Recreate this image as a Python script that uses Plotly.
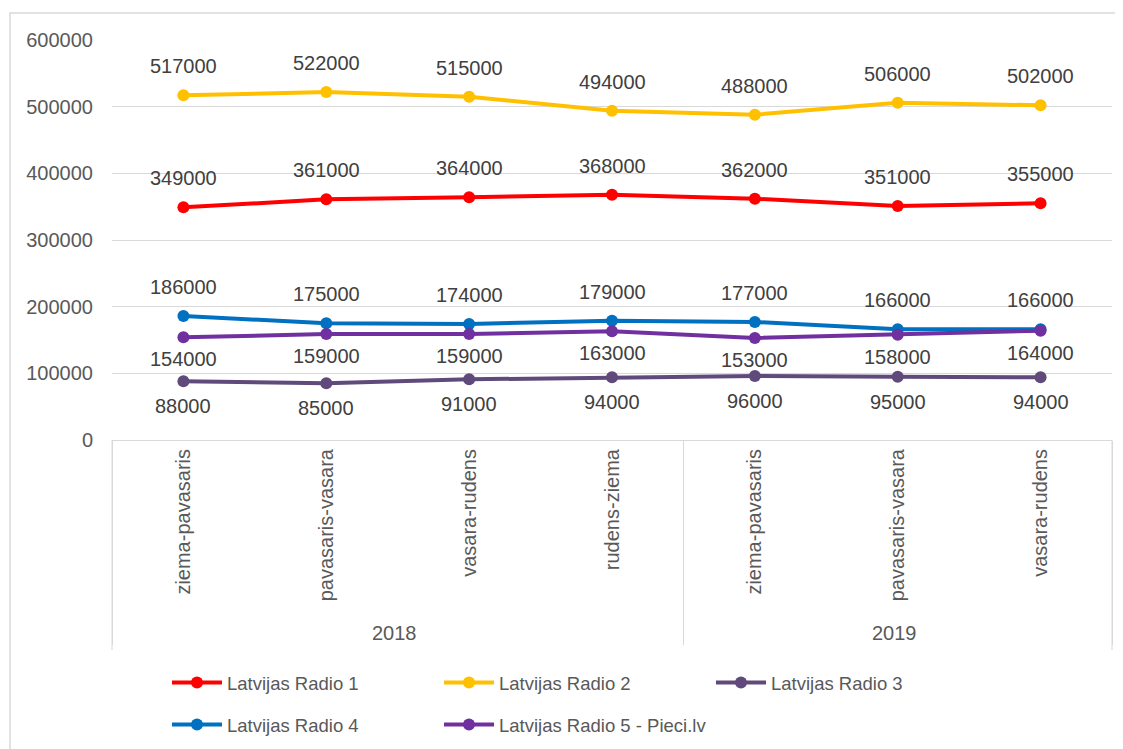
import plotly.graph_objects as go

years = ["2018", "2018", "2018", "2018", "2019", "2019", "2019"]
seasons = ["ziema-pavasaris", "pavasaris-vasara", "vasara-rudens", "rudens-ziema",
           "ziema-pavasaris", "pavasaris-vasara", "vasara-rudens"]

series_names = ["Latvijas Radio 1", "Latvijas Radio 2", "Latvijas Radio 3",
                "Latvijas Radio 4", "Latvijas Radio 5 - Pieci.lv"]
radio1 = [349000, 361000, 364000, 368000, 362000, 351000, 355000]
radio2 = [517000, 522000, 515000, 494000, 488000, 506000, 502000]
radio3 = [88000, 85000, 91000, 94000, 96000, 95000, 94000]
radio4 = [186000, 175000, 174000, 179000, 177000, 166000, 166000]
radio5 = [154000, 159000, 159000, 163000, 153000, 158000, 164000]

colors = ["#FF0000", "#FFC000", "#604A7B", "#0070C0", "#7030A0"]
label_shift = [29, 29, -25, 29, -22]
legend_ids = ["legend", "legend", "legend", "legend2", "legend2"]

FONT = "Liberation Sans"
values = [radio1, radio2, radio3, radio4, radio5]

# the page body has an 8px margin, so the figure is sized to fit the window
W, H = 1115, 741

fig = go.Figure()
annotations = []
for name, vals, col, shift, lg in zip(series_names, values, colors, label_shift, legend_ids):
    fig.add_trace(go.Scatter(
        x=[years, seasons], y=vals, name=name, mode="lines+markers",
        line=dict(color=col, width=4), marker=dict(color=col, size=12),
        legend=lg,
    ))
    for i, v in enumerate(vals):
        annotations.append(dict(
            x=i, y=v, xref="x", yref="y", text=str(v), showarrow=False,
            yshift=shift, font=dict(family=FONT, size=20, color="#404040"),
        ))

legend_common = dict(orientation="h", xref="container", yref="container",
                     xanchor="left", yanchor="middle",
                     entrywidth=207, entrywidthmode="pixels", itemwidth=50,
                     font=dict(family=FONT, size=18.5, color="#595959"),
                     bgcolor="rgba(0,0,0,0)")

fig.update_layout(
    width=W, height=H,
    margin=dict(l=104, r=11, t=32, b=309, autoexpand=False),
    paper_bgcolor="white", plot_bgcolor="white",
    font=dict(family=FONT, size=20, color="#595959"),
    showlegend=True,
    annotations=annotations,
    legend=dict(x=159 / W, y=1 - 675 / H, **legend_common),
    legend2=dict(x=159 / W, y=1 - 717 / H, **legend_common),
    shapes=[
        dict(type="rect", xref="paper", yref="paper",
             x0=-0.102, x1=1.03, y0=-0.85, y1=1.0675,
             line=dict(color="#D9D9D9", width=1.5), layer="below"),
        dict(type="line", xref="paper", yref="paper", x0=0, x1=0, y0=0, y1=-0.525,
             line=dict(color="#D9D9D9", width=1)),
        dict(type="line", xref="paper", yref="paper", x0=1, x1=1, y0=0, y1=-0.525,
             line=dict(color="#D9D9D9", width=1)),
    ],
)
fig.update_xaxes(
    type="multicategory", tickangle=-90, automargin=False, range=[-0.5, 6.5],
    showline=True, linecolor="#D9D9D9", linewidth=1,
    showdividers=True, dividercolor="#D9D9D9", dividerwidth=1,
    showgrid=False, ticks="outside", ticklen=10, tickcolor="rgba(0,0,0,0)",
    tickfont=dict(family=FONT, size=20, color="#595959"),
)
fig.update_yaxes(
    range=[0, 600000], dtick=100000, tickformat="d", automargin=False,
    showgrid=True, gridcolor="#D9D9D9", gridwidth=1,
    zeroline=False, showline=False, ticks="", ticklen=0, ticklabelstandoff=18,
    tickfont=dict(family=FONT, size=20, color="#595959"),
)
fig.write_html("out.html")
